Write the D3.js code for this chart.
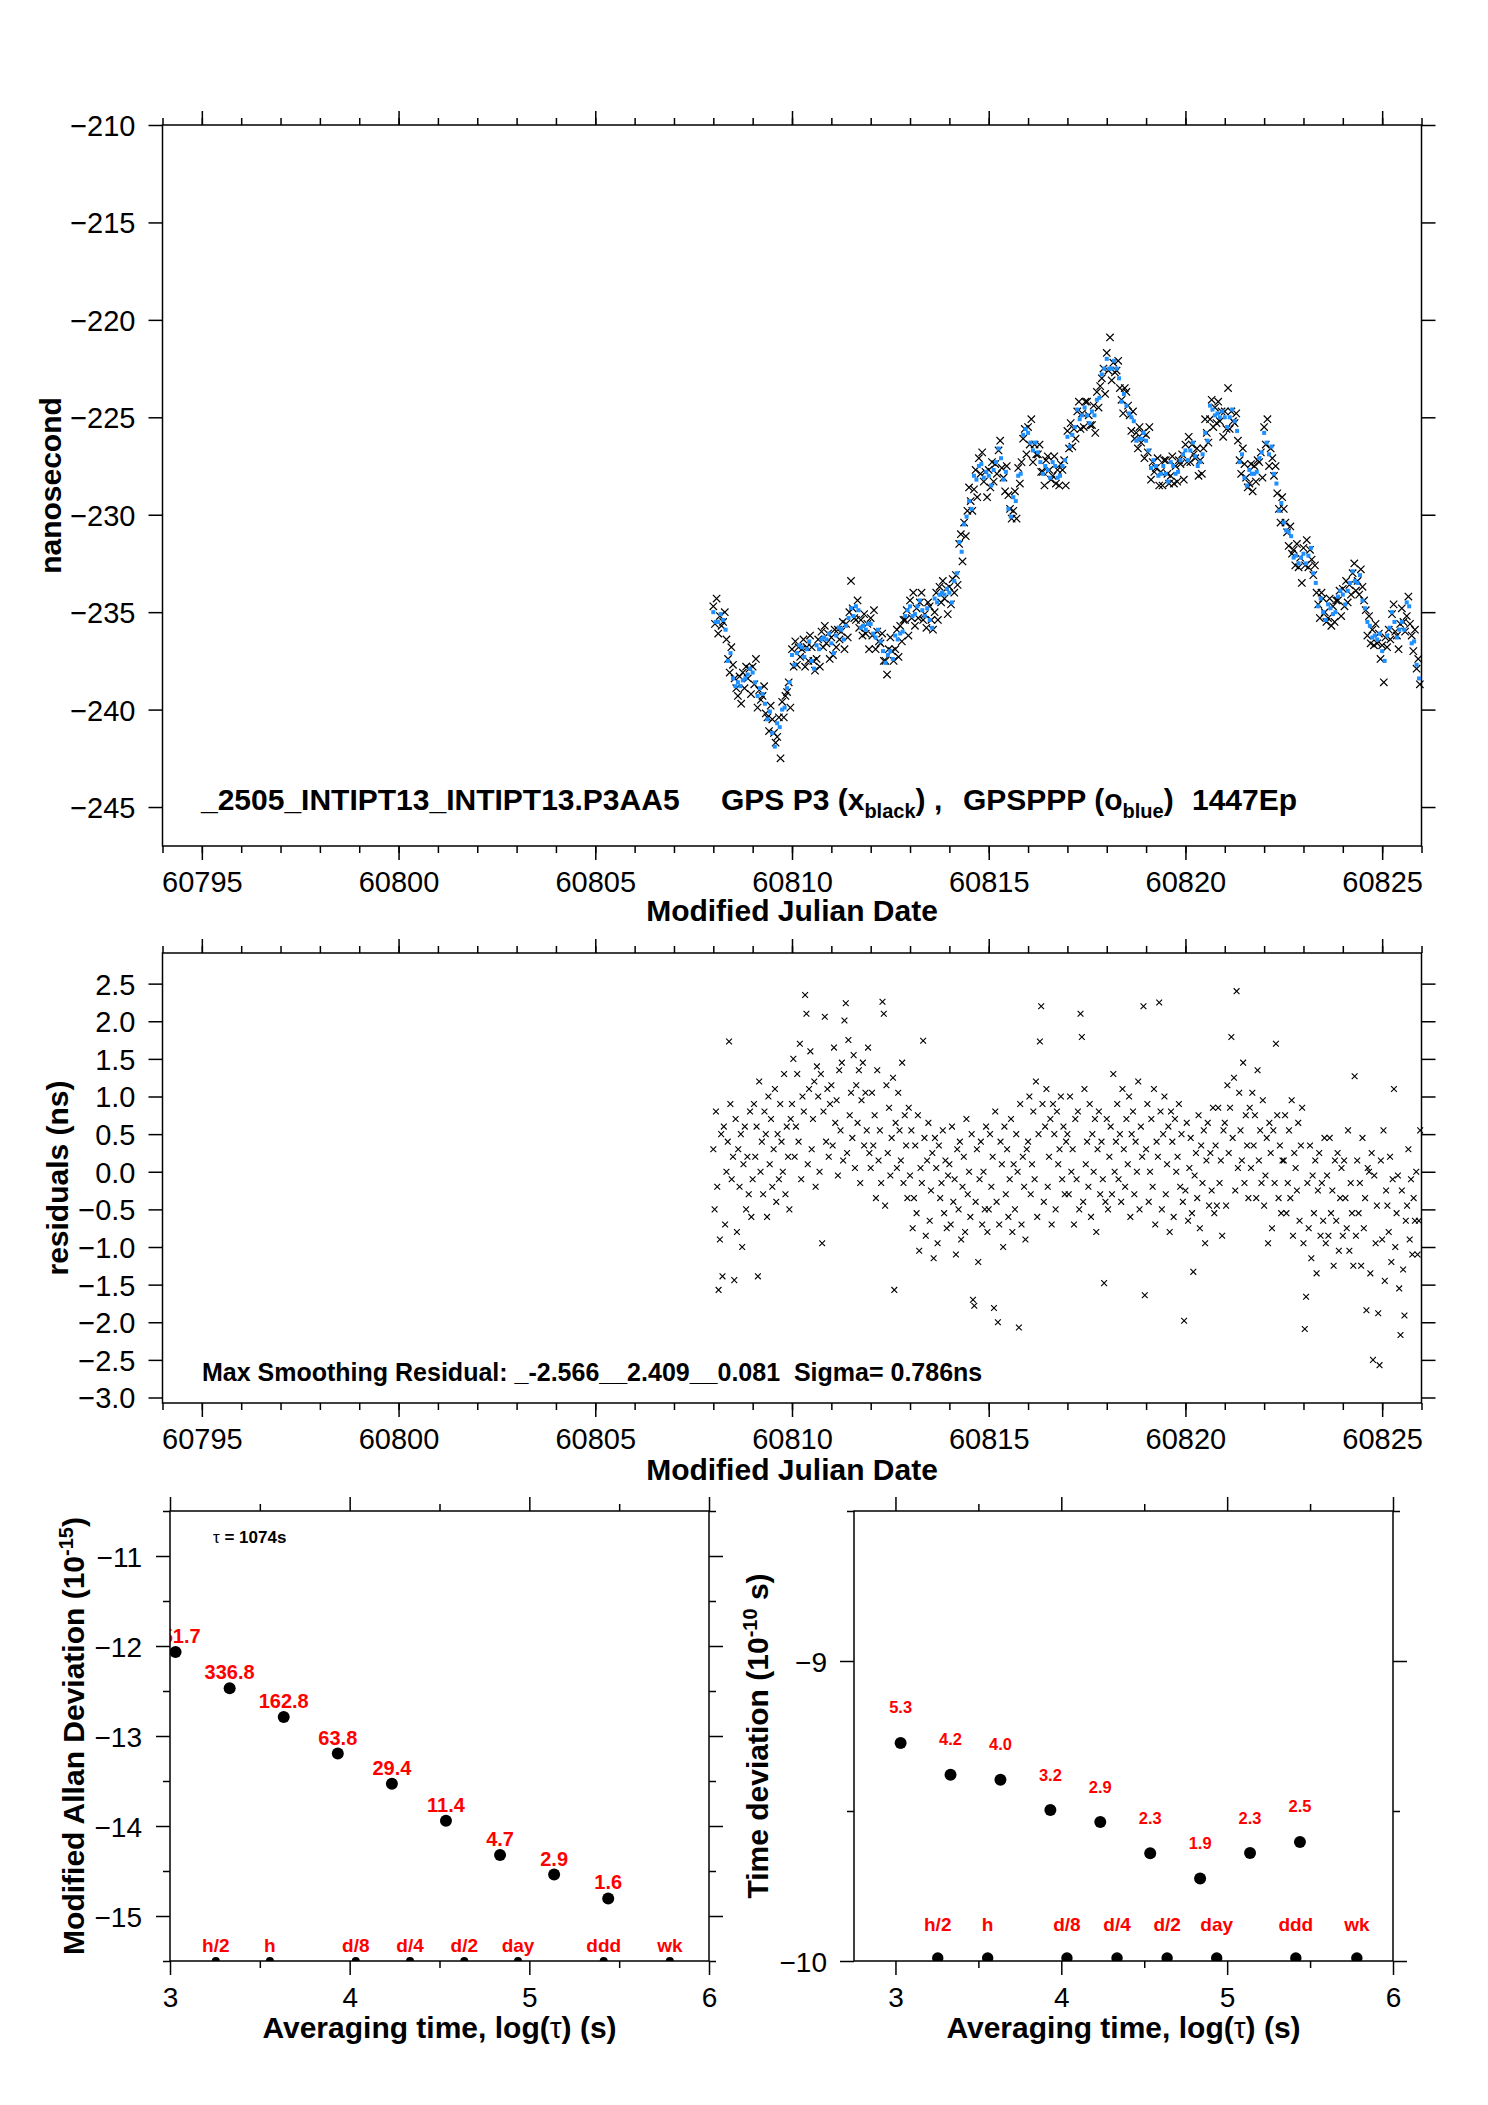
<!DOCTYPE html>
<html>
<head>
<meta charset="utf-8">
<script src="https://cdn.jsdelivr.net/npm/d3@7"></script>
<style>
  html, body { margin: 0; padding: 0; background: #fff; }
  svg { display: block; font-family: "Liberation Sans", Arial, Helvetica, sans-serif; }
</style>
</head>
<body>
<svg id="chart" width="1488" height="2105"></svg>
<script>
// Clock comparison report: time series, smoothing residuals, MDEV and TDEV panels.

// ---- data -------------------------------------------------------------
const MJD_START = 60808.0;

// GPS P3 (black x), 24 samples per day
const BLACK_STEP = 1 / 24;
const GPS_P3_BLACK = [
  -234.7,-235.6,-234.3,-236.1,-235.2,-235.7,-235.5,-235.0,-236.4,-237.4,-238.1,-236.8,-237.7,-238.4,-238.9,-239.3,-238.3,-239.7,-238.1,-238.9,-237.8,-238.4,-237.9,-239.2,
  -237.8,-238.7,-237.4,-239.9,-239.0,-239.5,-239.3,-238.8,-240.2,-240.4,-241.1,-239.8,-240.5,-241.2,-241.7,-241.4,-240.4,-242.5,-239.6,-240.4,-239.3,-239.1,-238.6,-239.9,
  -236.9,-237.8,-236.5,-237.7,-236.8,-237.3,-236.9,-236.4,-237.8,-236.8,-237.5,-236.2,-236.8,-237.5,-238.0,-237.4,-236.4,-237.8,-236.0,-236.8,-235.7,-236.6,-236.1,-237.4,
  -236.3,-237.2,-235.9,-236.8,-235.9,-236.4,-236.0,-235.5,-236.9,-235.6,-236.3,-235.0,-233.4,-234.8,-235.3,-235.4,-234.4,-235.8,-235.4,-236.2,-235.1,-236.1,-235.6,-236.9,
  -235.3,-236.2,-234.9,-236.9,-236.0,-236.5,-236.6,-236.1,-237.5,-237.5,-238.2,-236.9,-236.3,-237.0,-237.5,-236.9,-235.9,-237.3,-235.7,-236.5,-235.4,-235.4,-234.9,-236.2,
  -234.4,-235.3,-234.0,-235.7,-234.8,-235.3,-234.5,-234.0,-235.4,-235.1,-235.8,-234.5,-234.7,-235.4,-235.9,-235.0,-234.0,-235.4,-233.7,-234.5,-233.4,-234.3,-233.8,-235.1,
  -233.7,-234.6,-233.3,-234.0,-233.1,-233.6,-231.5,-231.0,-232.4,-230.4,-231.1,-229.8,-228.6,-229.3,-229.8,-228.7,-227.7,-229.1,-227.1,-227.9,-226.8,-228.3,-227.8,-229.1,
  -227.7,-228.6,-227.3,-228.3,-227.4,-227.9,-226.7,-226.2,-227.6,-228.1,-228.8,-227.5,-229.0,-229.7,-230.2,-229.8,-228.8,-230.2,-227.6,-228.4,-227.3,-226.1,-225.6,-226.9,
  -225.5,-226.4,-225.1,-227.3,-226.4,-226.9,-226.9,-226.4,-227.8,-227.8,-228.5,-227.2,-227.0,-227.7,-228.2,-228.0,-227.0,-228.4,-227.7,-228.5,-227.4,-227.7,-227.2,-228.5,
  -225.7,-226.6,-225.3,-226.5,-225.6,-226.1,-224.7,-224.2,-225.6,-224.8,-225.5,-224.2,-224.2,-224.9,-225.4,-225.4,-224.4,-225.8,-223.7,-224.5,-223.4,-223.0,-222.5,-223.8,
  -221.7,-222.6,-220.9,-223.1,-222.2,-222.7,-222.6,-222.1,-223.5,-224.1,-224.8,-223.5,-223.7,-224.4,-224.9,-225.7,-224.7,-226.1,-225.8,-226.6,-225.5,-226.3,-225.8,-227.1,
  -225.9,-226.8,-225.5,-228.2,-227.3,-227.8,-227.6,-227.1,-228.5,-227.8,-228.5,-227.2,-227.2,-227.9,-228.4,-228.0,-227.0,-228.4,-227.5,-228.3,-227.2,-227.4,-226.9,-228.2,
  -226.4,-227.3,-226.0,-227.3,-226.4,-226.9,-227.1,-226.6,-228.0,-227.2,-227.9,-226.6,-225.1,-225.8,-226.3,-225.1,-224.1,-225.5,-224.5,-225.3,-224.2,-225.2,-224.7,-226.0,
  -224.7,-225.6,-223.5,-225.6,-224.7,-225.2,-225.3,-224.8,-226.2,-227.2,-227.9,-226.6,-227.4,-228.1,-228.6,-228.4,-227.4,-228.8,-227.5,-228.3,-227.2,-227.3,-226.8,-228.1,
  -225.5,-226.4,-225.1,-227.5,-226.6,-227.1,-228.0,-227.5,-228.9,-229.7,-230.4,-229.1,-229.7,-230.4,-230.9,-231.6,-230.6,-232.0,-231.8,-232.6,-231.5,-232.7,-232.2,-233.5,
  -231.7,-232.6,-231.3,-232.7,-231.8,-232.3,-233.1,-232.6,-234.0,-234.6,-235.3,-234.0,-234.3,-235.0,-235.5,-235.3,-234.3,-235.7,-234.7,-235.5,-234.4,-234.4,-233.9,-235.2,
  -233.8,-234.7,-233.4,-234.5,-233.6,-234.1,-233.0,-232.5,-233.9,-233.4,-234.1,-232.8,-233.7,-234.4,-234.9,-236.2,-235.2,-236.6,-235.9,-236.7,-235.6,-236.6,-236.1,-237.4,
  -236.7,-238.6,-236.3,-236.8,-235.9,-236.4,-235.1,-234.6,-236.0,-236.2,-236.9,-235.6,-234.8,-235.5,-236.0,-235.2,-234.2,-235.6,-236.2,-237.0,-235.9,-237.9,-237.4,-238.7
];

// GPSPPP (blue o), 16 samples per day
const BLUE_STEP = 1 / 16;
const GPS_PPP_BLUE = [
  -235.0,-235.5,-235.5,-235.1,-235.4,-235.9,-237.5,-237.1,-238.4,-238.8,-238.6,-238.8,-238.5,-238.4,-238.2,-237.9,
  -238.1,-238.6,-239.3,-238.9,-239.2,-239.7,-240.5,-240.1,-241.2,-241.9,-240.7,-240.9,-240.0,-239.9,-238.9,-238.6,
  -237.2,-237.7,-237.1,-236.7,-236.8,-237.3,-236.9,-236.5,-237.5,-237.9,-236.7,-236.9,-236.4,-236.3,-236.4,-236.1,
  -236.6,-237.1,-236.2,-235.8,-235.9,-236.4,-235.7,-235.3,-234.8,-235.2,-234.7,-234.9,-235.8,-235.7,-235.9,-235.6,
  -235.6,-236.1,-236.3,-235.9,-236.5,-237.0,-237.6,-237.2,-237.0,-237.4,-236.2,-236.4,-236.1,-236.0,-235.2,-234.9,
  -234.7,-235.2,-235.1,-234.7,-234.4,-234.9,-235.2,-234.8,-235.4,-235.8,-234.3,-234.5,-234.1,-234.0,-234.1,-233.8,
  -234.0,-234.5,-233.4,-233.0,-231.4,-231.9,-230.5,-230.1,-229.3,-229.7,-228.0,-228.2,-227.5,-227.4,-228.1,-227.8,
  -228.0,-228.5,-227.7,-227.3,-226.6,-227.1,-228.2,-227.8,-229.7,-230.1,-229.1,-229.3,-228.0,-227.9,-225.9,-225.6,
  -225.8,-226.3,-226.7,-226.3,-226.8,-227.3,-227.9,-227.5,-227.7,-228.1,-227.3,-227.5,-228.1,-228.0,-227.5,-227.2,
  -226.0,-226.5,-225.9,-225.5,-224.6,-225.1,-224.9,-224.5,-224.9,-225.3,-224.7,-224.9,-224.1,-224.0,-222.8,-222.5,
  -222.0,-222.5,-222.5,-222.1,-222.5,-223.0,-224.2,-223.8,-224.4,-224.8,-225.0,-225.2,-226.2,-226.1,-226.1,-225.8,
  -226.2,-226.7,-227.6,-227.2,-227.5,-228.0,-227.9,-227.5,-227.9,-228.3,-227.3,-227.5,-227.9,-227.8,-227.2,-226.9,
  -226.7,-227.2,-226.7,-226.3,-227.0,-227.5,-227.3,-226.9,-225.8,-226.2,-224.4,-224.6,-224.9,-224.8,-225.0,-224.7,
  -225.0,-225.5,-225.0,-224.6,-225.2,-225.7,-227.3,-226.9,-228.1,-228.5,-227.7,-227.9,-227.9,-227.8,-227.1,-226.8,
  -225.8,-226.3,-226.9,-226.5,-227.9,-228.4,-229.8,-229.4,-230.4,-230.8,-230.9,-231.1,-232.2,-232.1,-232.5,-232.2,
  -232.0,-232.5,-232.1,-231.7,-233.0,-233.5,-234.7,-234.3,-235.0,-235.4,-234.6,-234.8,-235.1,-235.0,-234.2,-233.9,
  -234.1,-234.6,-233.9,-233.5,-232.9,-233.4,-233.5,-233.1,-234.4,-234.8,-235.5,-235.7,-236.3,-236.2,-236.4,-236.1,
  -237.0,-237.5,-236.2,-235.8,-235.0,-235.5,-236.3,-235.9,-235.5,-235.9,-234.5,-234.7,-236.6,-236.5,-237.7,-238.4
];

// Smoothing residuals (ns), 30 samples per day
const RESID_STEP = 1 / 30;
const RESIDUALS = [
  0.3,-0.5,0.8,-0.2,-1.57,-0.9,0.5,-1.39,0.6,-0.7,0.0,0.4,1.73,0.9,-0.1,0.2,-1.44,0.7,-0.8,0.3,-0.2,0.5,-1.0,0.1,0.6,-0.5,0.2,-0.3,0.8,-0.6,
  -0.1,0.9,0.2,0.6,-1.39,1.2,0.0,0.4,-0.3,0.8,0.5,-0.6,1.0,0.1,0.7,-0.2,0.3,1.1,-0.4,0.5,-0.1,0.9,0.4,0.0,1.3,-0.3,0.6,0.2,-0.5,0.7,
  0.9,1.5,0.2,0.6,1.3,0.4,1.7,-0.1,1.0,0.8,2.35,2.1,0.1,1.1,1.6,0.3,0.7,1.2,-0.2,1.4,1.0,0.0,1.3,-0.95,0.8,2.06,0.4,1.1,0.2,0.9,
  1.15,0.35,1.65,0.65,0.95,-0.05,1.35,0.55,1.45,0.15,2.01,2.24,0.25,1.75,0.75,1.05,0.45,1.55,0.05,1.15,0.65,1.35,-0.15,0.95,1.45,0.35,1.05,0.55,1.65,0.25,
  0.05,1.05,0.35,0.75,-0.35,1.35,0.15,0.55,-0.15,2.26,2.1,-0.45,1.15,0.25,0.85,-0.05,0.45,1.25,-1.57,0.65,0.05,1.05,0.55,0.15,1.45,-0.15,0.75,0.35,-0.35,0.85,
  -0.05,0.55,-0.75,-0.35,0.35,-0.55,0.75,-1.05,0.05,-0.15,1.74,0.45,-0.85,0.15,0.65,-0.65,-0.25,0.25,-1.15,0.45,0.05,-0.95,0.35,-0.35,-0.15,0.55,-0.55,0.15,-0.75,-0.05,
  0.1,-0.7,0.6,-0.4,-0.1,-1.1,0.3,-0.5,0.4,-0.9,-0.2,0.2,-0.8,0.7,-0.3,0.0,-0.6,0.5,-1.7,-1.78,-0.4,0.3,-1.2,-0.1,0.4,-0.7,0.0,-0.5,0.6,-0.8,
  -0.5,0.5,-0.2,0.2,-1.81,0.8,-0.4,-2.0,-0.7,0.4,0.1,-1.0,0.6,-0.3,0.3,-0.6,-0.1,0.7,-0.8,0.1,-0.5,0.5,0.0,-2.07,0.9,-0.7,0.2,-0.2,-0.9,0.3,
  0.4,1.0,-0.3,0.1,0.8,-0.1,1.2,-0.6,0.5,1.73,2.2,0.9,-0.4,0.6,1.1,-0.2,0.2,0.7,-0.7,0.9,0.5,-0.5,0.8,0.1,0.3,1.0,-0.1,0.6,-0.3,0.4,
  0.5,-0.3,1.0,0.0,0.3,-0.7,0.7,-0.1,0.8,-0.5,2.1,1.79,-0.4,1.1,0.1,0.4,-0.2,0.9,-0.6,0.5,0.0,0.7,-0.8,0.3,0.8,-0.3,0.4,-0.1,-1.48,-0.4,
  0.7,-0.5,0.2,0.6,-0.3,1.3,0.0,0.4,0.9,-0.1,0.5,-0.4,1.1,0.3,-0.2,0.7,0.1,1.0,-0.6,0.5,0.8,-0.3,0.4,0.0,1.2,-0.5,0.6,0.2,2.2,-1.64,
  0.3,0.9,-0.4,0.0,0.7,-0.2,1.1,-0.7,0.4,0.2,2.25,0.8,-0.5,0.5,1.0,-0.3,0.1,0.6,-0.8,0.8,0.4,-0.6,0.7,0.0,0.2,0.9,-0.2,0.5,-0.4,-1.98,
  -0.25,0.65,-0.65,0.05,0.45,-0.55,-1.33,-0.05,0.25,-0.35,0.75,-0.75,0.35,-0.15,0.55,-0.95,0.15,0.65,-0.45,0.25,-0.25,0.85,-0.55,0.35,-0.45,0.85,-0.15,0.15,-0.85,0.55,
  0.65,-0.45,1.15,0.25,0.85,1.79,0.45,1.25,-0.25,2.4,0.05,1.05,0.55,0.15,1.45,-0.15,0.75,0.35,-0.35,0.85,0.05,1.05,0.35,0.75,-0.35,1.35,0.15,0.55,-0.15,0.95,
  -0.45,-0.05,0.45,-0.95,0.65,0.25,-0.75,0.55,-0.15,1.7,0.75,-0.35,0.35,-0.55,0.15,0.15,0.75,-0.55,-0.15,0.55,-0.35,0.95,-0.85,0.25,0.05,-0.25,0.65,-0.65,0.35,0.85,
  -0.95,-2.09,-1.66,-0.15,-0.75,0.35,-1.15,-0.05,-0.55,0.15,-1.35,-0.25,0.25,-0.85,-0.15,-0.65,0.45,-0.95,-0.05,-0.85,0.45,-0.55,-0.25,-1.25,0.15,-0.65,0.25,-1.05,-0.35,0.05,
  -0.85,0.15,-0.35,-0.75,0.55,-1.05,-0.15,-0.55,-1.25,1.27,-0.85,0.15,-0.55,-0.15,-1.25,0.45,-0.75,-0.35,-1.84,0.05,0.0,-1.35,0.25,-2.5,-0.05,-0.95,-0.45,-1.88,-2.57,0.15,
  -0.9,0.55,-1.45,-0.25,-0.45,-0.8,0.2,-1.2,-0.1,1.1,-1.0,-0.55,-0.05,-1.55,-2.17,-0.25,-1.3,-1.91,-0.65,-0.45,0.3,-0.9,-0.1,-1.1,-0.35,-0.65,0.0,-1.1,-0.65,0.55
];

// stability panels (log10 of averaging time in s)
const LOG_TAU = [3.031, 3.332, 3.633, 3.934, 4.235, 4.536, 4.837, 5.138, 5.439];
const MDEV_LOG = [-12.066, -12.469, -12.788, -13.195, -13.531, -13.942, -14.323, -14.540, -14.805];
const MDEV_LABELS = ["851.7", "336.8", "162.8", "63.8", "29.4", "11.4", "4.7", "2.9", "1.6"];
const TDEV_LOG = [-9.273, -9.379, -9.396, -9.497, -9.537, -9.641, -9.725, -9.640, -9.603];
const TDEV_LABELS = ["5.3", "4.2", "4.0", "3.2", "2.9", "2.3", "1.9", "2.3", "2.5"];
const MARKER_LOG_TAU = [3.255, 3.556, 4.034, 4.336, 4.638, 4.937, 5.414, 5.782];
const MARKER_LABELS = ["h/2", "h", "d/8", "d/4", "d/2", "day", "ddd", "wk"];

// axis ticks
const MJD_MAJOR = [60795, 60800, 60805, 60810, 60815, 60820, 60825];
const NS_MAJOR = [-245, -240, -235, -230, -225, -220, -215, -210];
const RES_MAJOR = [-3.0, -2.5, -2.0, -1.5, -1.0, -0.5, 0.0, 0.5, 1.0, 1.5, 2.0, 2.5];
const LOGTAU_MAJOR = [3, 4, 5, 6];
const LOGTAU_MINOR = [3.5, 4.5, 5.5];
const MDEV_MAJOR = [-15, -14, -13, -12, -11];
const MDEV_MINOR = [-15.5, -14.5, -13.5, -12.5, -11.5, -10.5];
const TDEV_MAJOR = [-10, -9];
const TDEV_MINOR = [-9.5, -8.5];

// ---- layout -------------------------------------------------------------
const PANEL_TS = { left: 162.5, right: 1421.5, top: 125, bottom: 846 };
const PANEL_RES = { left: 162.5, right: 1421.5, top: 953, bottom: 1403 };
const PANEL_MDEV = { left: 170, right: 709, top: 1511, bottom: 1961 };
const PANEL_TDEV = { left: 854, right: 1393, top: 1511, bottom: 1961 };

const RED = "#ff0000";
const BLUE = "#1e90ff";

const svg = d3.select("#chart");
svg.append("rect").attr("width", 1488).attr("height", 2105).attr("fill", "#fff");

const cleanAxis = (sel) => {
  sel.attr("font-family", null).attr("font-size", null);
  sel.select(".domain").remove();
  sel.selectAll(".tick line").attr("stroke", "#000").attr("stroke-width", 1.5);
};

const drawAxes = (box, x, y, cfg) => {
  const g = svg.append("g");
  const blank = () => "";

  // bottom: major (labelled) + minor
  g.append("g").attr("transform", `translate(0,${box.bottom})`)
    .call(d3.axisBottom(x).tickValues(cfg.xMajor).tickSize(14).tickFormat(cfg.xFormat))
    .call(cleanAxis)
    .call((s) => s.selectAll("text").attr("y", 46).attr("dy", null)
      .attr("font-size", cfg.fontSize).attr("fill", "#000"));
  g.append("g").attr("transform", `translate(0,${box.bottom})`)
    .call(d3.axisBottom(x).tickValues(cfg.xMinor).tickSize(7).tickFormat(blank))
    .call(cleanAxis);

  // top mirror
  g.append("g").attr("transform", `translate(0,${box.top})`)
    .call(d3.axisTop(x).tickValues(cfg.xMajor).tickSize(14).tickFormat(blank))
    .call(cleanAxis);
  g.append("g").attr("transform", `translate(0,${box.top})`)
    .call(d3.axisTop(x).tickValues(cfg.xMinor).tickSize(7).tickFormat(blank))
    .call(cleanAxis);

  // left: major (labelled) + minor
  g.append("g").attr("transform", `translate(${box.left},0)`)
    .call(d3.axisLeft(y).tickValues(cfg.yMajor).tickSize(14).tickFormat(cfg.yFormat))
    .call(cleanAxis)
    .call((s) => s.selectAll("text").attr("x", -cfg.yGap).attr("dy", "0.36em")
      .attr("font-size", cfg.fontSize).attr("fill", "#000"));
  g.append("g").attr("transform", `translate(${box.left},0)`)
    .call(d3.axisLeft(y).tickValues(cfg.yMinor).tickSize(7).tickFormat(blank))
    .call(cleanAxis);

  // right mirror
  g.append("g").attr("transform", `translate(${box.right},0)`)
    .call(d3.axisRight(y).tickValues(cfg.yMajor).tickSize(14).tickFormat(blank))
    .call(cleanAxis);
  g.append("g").attr("transform", `translate(${box.right},0)`)
    .call(d3.axisRight(y).tickValues(cfg.yMinor).tickSize(7).tickFormat(blank))
    .call(cleanAxis);

  // frame
  g.append("rect")
    .attr("x", box.left).attr("y", box.top)
    .attr("width", box.right - box.left).attr("height", box.bottom - box.top)
    .attr("fill", "none").attr("stroke", "#000").attr("stroke-width", 1.5);
};

const titleX = (text, x, y) => svg.append("text")
  .attr("x", x).attr("y", y).attr("text-anchor", "middle")
  .attr("font-size", 30).attr("font-weight", "bold").text(text);

const titleY = (x, y) => svg.append("text")
  .attr("transform", `translate(${x},${y}) rotate(-90)`)
  .attr("text-anchor", "middle").attr("font-size", 30).attr("font-weight", "bold");

const crossPath = (h) => `M${-h},${-h}L${h},${h}M${-h},${h}L${h},${-h}`;

// ---- panel 1: time series ---------------------------------------------
const xMjd = d3.scaleLinear().domain([60794, 60826]).range([PANEL_TS.left, PANEL_TS.right]);
const yNs = d3.scaleLinear().domain([-247, -210]).range([PANEL_TS.bottom, PANEL_TS.top]);
const mjdMinor = d3.range(60794, 60827, 1);

drawAxes(PANEL_TS, xMjd, yNs, {
  xMajor: MJD_MAJOR, xMinor: mjdMinor, xFormat: d3.format("d"),
  yMajor: NS_MAJOR, yMinor: [], yFormat: d3.format("d"),
  fontSize: 29, yGap: 27
});

svg.append("g").selectAll("path")
  .data(GPS_P3_BLACK)
  .join("path")
  .attr("transform", (d, i) => `translate(${xMjd(MJD_START + i * BLACK_STEP)},${yNs(d)})`)
  .attr("d", crossPath(3.7))
  .attr("fill", "none").attr("stroke", "#000").attr("stroke-width", 1.2);

svg.append("g").selectAll("rect")
  .data(GPS_PPP_BLUE)
  .join("rect")
  .attr("x", (d, i) => xMjd(MJD_START + i * BLUE_STEP) - 2)
  .attr("y", (d) => yNs(d) - 2)
  .attr("width", 4).attr("height", 4)
  .attr("fill", BLUE);

const ann = svg.append("text").attr("y", 810).attr("font-size", 30).attr("font-weight", "bold");
ann.append("tspan").attr("x", 201).text("_2505_INTIPT13_INTIPT13.P3AA5");
ann.append("tspan").attr("x", 721).text("GPS P3 (x");
ann.append("tspan").attr("dy", 8).attr("font-size", 20).text("black");
ann.append("tspan").attr("dy", -8).text(") ,");
ann.append("tspan").attr("x", 963).text("GPSPPP (o");
ann.append("tspan").attr("dy", 8).attr("font-size", 20).text("blue");
ann.append("tspan").attr("dy", -8).text(")");
ann.append("tspan").attr("x", 1192).text("1447Ep");

titleY(61, (PANEL_TS.top + PANEL_TS.bottom) / 2).text("nanosecond");
titleX("Modified Julian Date", (PANEL_TS.left + PANEL_TS.right) / 2, 921);

// ---- panel 2: residuals -------------------------------------------------
const yRes = d3.scaleLinear().domain([-3.073, 2.907]).range([PANEL_RES.bottom, PANEL_RES.top]);

drawAxes(PANEL_RES, xMjd, yRes, {
  xMajor: MJD_MAJOR, xMinor: mjdMinor, xFormat: d3.format("d"),
  yMajor: RES_MAJOR, yMinor: [], yFormat: d3.format(".1f"),
  fontSize: 29, yGap: 27
});

svg.append("g").selectAll("path")
  .data(RESIDUALS)
  .join("path")
  .attr("transform", (d, i) => `translate(${xMjd(MJD_START + i * RESID_STEP)},${yRes(d)})`)
  .attr("d", crossPath(2.9))
  .attr("fill", "none").attr("stroke", "#000").attr("stroke-width", 1.1);

svg.append("text")
  .attr("x", 202).attr("y", 1381)
  .attr("font-size", 25).attr("font-weight", "bold")
  .style("white-space", "pre")
  .text("Max Smoothing Residual: _-2.566__2.409__0.081  Sigma= 0.786ns");

titleY(68, (PANEL_RES.top + PANEL_RES.bottom) / 2).text("residuals (ns)");
titleX("Modified Julian Date", (PANEL_RES.left + PANEL_RES.right) / 2, 1480);

// ---- panel 3: modified Allan deviation --------------------------------
const xTauM = d3.scaleLinear().domain([3, 6]).range([PANEL_MDEV.left, PANEL_MDEV.right]);
const yMdev = d3.scaleLinear().domain([-15.5, -10.5]).range([PANEL_MDEV.bottom, PANEL_MDEV.top]);

svg.append("clipPath").attr("id", "clip-mdev").append("rect")
  .attr("x", PANEL_MDEV.left).attr("y", PANEL_MDEV.top)
  .attr("width", PANEL_MDEV.right - PANEL_MDEV.left)
  .attr("height", PANEL_MDEV.bottom - PANEL_MDEV.top);

const gM = svg.append("g").attr("clip-path", "url(#clip-mdev)");

gM.selectAll("circle.pt")
  .data(MDEV_LOG)
  .join("circle")
  .attr("class", "pt")
  .attr("cx", (d, i) => xTauM(LOG_TAU[i]))
  .attr("cy", (d) => yMdev(d))
  .attr("r", 6).attr("fill", "#000");

gM.selectAll("text.lbl")
  .data(MDEV_LOG)
  .join("text")
  .attr("class", "lbl")
  .attr("x", (d, i) => xTauM(LOG_TAU[i]))
  .attr("y", (d) => yMdev(d) - 9)
  .attr("text-anchor", "middle")
  .attr("font-size", 20).attr("font-weight", "bold").attr("fill", RED)
  .text((d, i) => MDEV_LABELS[i]);

gM.selectAll("circle.mk")
  .data(MARKER_LOG_TAU)
  .join("circle")
  .attr("class", "mk")
  .attr("cx", (d) => xTauM(d))
  .attr("cy", yMdev(-15.5))
  .attr("r", 4).attr("fill", "#000");

svg.append("g").selectAll("text")
  .data(MARKER_LOG_TAU)
  .join("text")
  .attr("x", (d) => xTauM(d))
  .attr("y", yMdev(-15.5) - 9)
  .attr("text-anchor", "middle")
  .attr("font-size", 19).attr("font-weight", "bold").attr("fill", RED)
  .text((d, i) => MARKER_LABELS[i]);

drawAxes(PANEL_MDEV, xTauM, yMdev, {
  xMajor: LOGTAU_MAJOR, xMinor: LOGTAU_MINOR, xFormat: d3.format("d"),
  yMajor: MDEV_MAJOR, yMinor: MDEV_MINOR, yFormat: d3.format("d"),
  fontSize: 28, yGap: 28
});

const tauNote = svg.append("text").attr("x", 213).attr("y", 1543)
  .attr("font-size", 17).attr("font-weight", "bold");
tauNote.append("tspan").attr("font-weight", "normal").text("τ");
tauNote.append("tspan").text(" = 1074s");

const tM = titleY(84, (PANEL_MDEV.top + PANEL_MDEV.bottom) / 2);
tM.append("tspan").text("Modified Allan Deviation (10");
tM.append("tspan").attr("dy", -11).attr("font-size", 20).text("-15");
tM.append("tspan").attr("dy", 11).text(")");

const tx1 = titleX("", (PANEL_MDEV.left + PANEL_MDEV.right) / 2, 2038);
tx1.append("tspan").text("Averaging time, log(");
tx1.append("tspan").attr("font-weight", "normal").text("τ");
tx1.append("tspan").text(") (s)");

// ---- panel 4: time deviation ---------------------------------------------
const xTauT = d3.scaleLinear().domain([2.75, 6]).range([PANEL_TDEV.left, PANEL_TDEV.right]);
const yTdev = d3.scaleLinear().domain([-10, -8.5]).range([PANEL_TDEV.bottom, PANEL_TDEV.top]);

svg.append("clipPath").attr("id", "clip-tdev").append("rect")
  .attr("x", PANEL_TDEV.left).attr("y", PANEL_TDEV.top)
  .attr("width", PANEL_TDEV.right - PANEL_TDEV.left)
  .attr("height", PANEL_TDEV.bottom - PANEL_TDEV.top);

const gT = svg.append("g").attr("clip-path", "url(#clip-tdev)");

gT.selectAll("circle.pt")
  .data(TDEV_LOG)
  .join("circle")
  .attr("class", "pt")
  .attr("cx", (d, i) => xTauT(LOG_TAU[i]))
  .attr("cy", (d) => yTdev(d))
  .attr("r", 6).attr("fill", "#000");

gT.selectAll("text.lbl")
  .data(TDEV_LOG)
  .join("text")
  .attr("class", "lbl")
  .attr("x", (d, i) => xTauT(LOG_TAU[i]))
  .attr("y", (d) => yTdev(d) - 29.5)
  .attr("text-anchor", "middle")
  .attr("font-size", 16.5).attr("font-weight", "bold").attr("fill", RED)
  .text((d, i) => TDEV_LABELS[i]);

gT.selectAll("circle.mk")
  .data(MARKER_LOG_TAU)
  .join("circle")
  .attr("class", "mk")
  .attr("cx", (d) => xTauT(d))
  .attr("cy", yTdev(-10) - 3)
  .attr("r", 5.7).attr("fill", "#000");

svg.append("g").selectAll("text")
  .data(MARKER_LOG_TAU)
  .join("text")
  .attr("x", (d) => xTauT(d))
  .attr("y", yTdev(-10) - 30)
  .attr("text-anchor", "middle")
  .attr("font-size", 19).attr("font-weight", "bold").attr("fill", RED)
  .text((d, i) => MARKER_LABELS[i]);

drawAxes(PANEL_TDEV, xTauT, yTdev, {
  xMajor: LOGTAU_MAJOR, xMinor: LOGTAU_MINOR, xFormat: d3.format("d"),
  yMajor: TDEV_MAJOR, yMinor: TDEV_MINOR, yFormat: d3.format("d"),
  fontSize: 28, yGap: 27
});

const tT = titleY(768, (PANEL_TDEV.top + PANEL_TDEV.bottom) / 2);
tT.append("tspan").text("Time deviation (10");
tT.append("tspan").attr("dy", -11).attr("font-size", 20).text("-10");
tT.append("tspan").attr("dy", 11).text(" s)");

const tx2 = titleX("", (PANEL_TDEV.left + PANEL_TDEV.right) / 2, 2038);
tx2.append("tspan").text("Averaging time, log(");
tx2.append("tspan").attr("font-weight", "normal").text("τ");
tx2.append("tspan").text(") (s)");
</script>
</body>
</html>
